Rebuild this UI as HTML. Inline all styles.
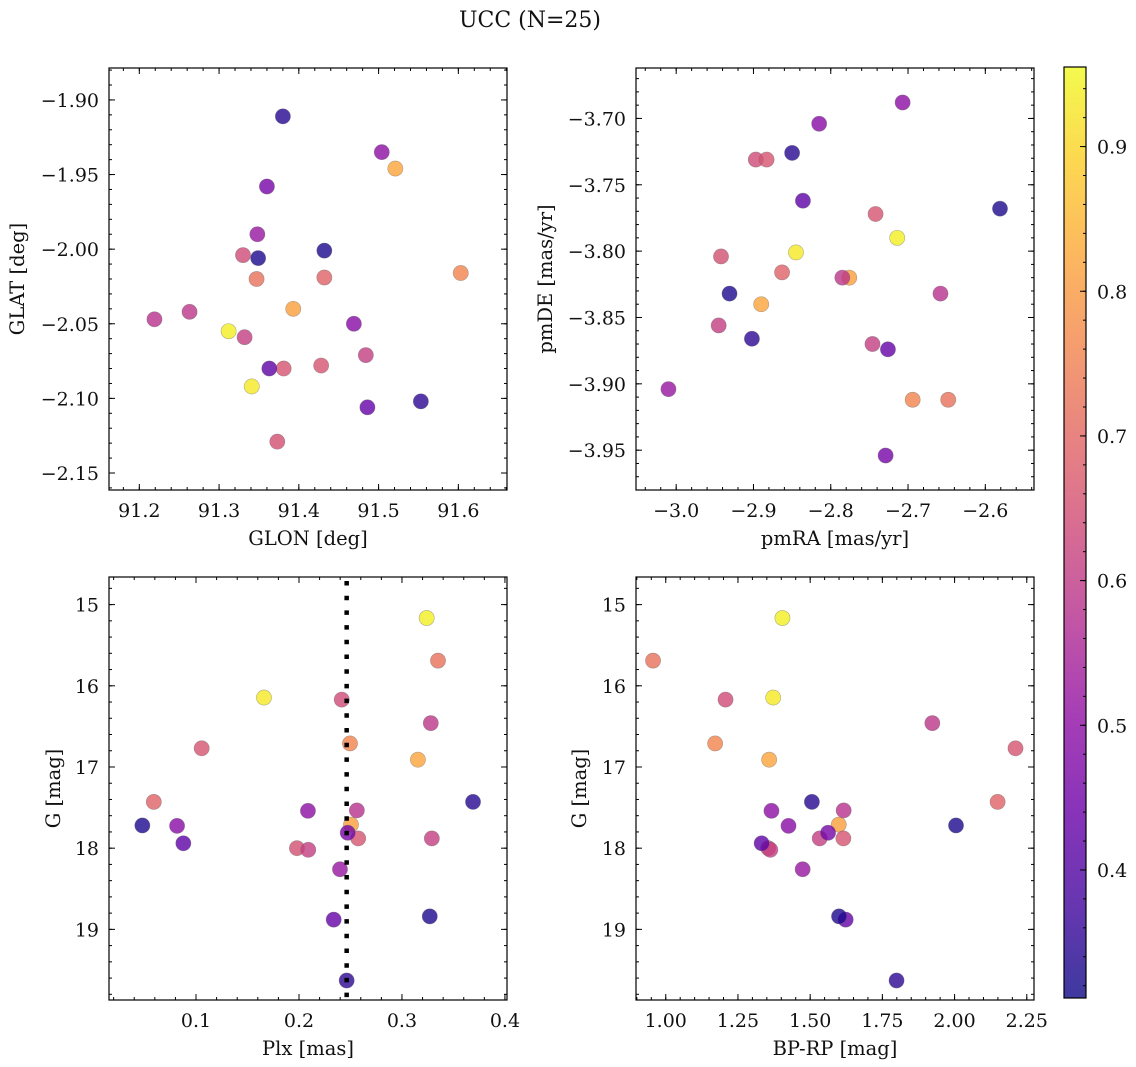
<!DOCTYPE html>
<html><head><meta charset="utf-8"><style>
html,body{margin:0;padding:0;background:#fff;}
svg{display:block;font-family:"DejaVu Serif","Liberation Serif",serif;}
</style></head><body>
<svg id="fig" width="1136" height="1067" viewBox="0 0 1136 1067" xmlns="http://www.w3.org/2000/svg">
<rect width="1136" height="1067" fill="#fff"/>
<text x="530" y="27" font-size="22" text-anchor="middle" fill="#111">UCC (N=25)</text>
</svg>
<script>
// ---- data (one entry per star) ----
const glon = [91.312,91.341,91.521,91.393,91.603,91.347,91.432,91.330,91.381,91.428,91.373,91.263,91.219,91.332,91.484,91.504,91.469,91.348,91.360,91.363,91.486,91.380,91.432,91.349,91.553];
const glat = [-2.055,-2.092,-1.946,-2.040,-2.016,-2.020,-2.019,-2.004,-2.080,-2.078,-2.129,-2.042,-2.047,-2.059,-2.071,-1.935,-2.050,-1.990,-1.958,-2.080,-2.106,-1.911,-2.001,-2.006,-2.102];
const pmra = [-2.714,-2.845,-2.890,-2.776,-2.694,-2.648,-2.863,-2.897,-2.883,-2.742,-2.942,-2.785,-2.658,-2.945,-2.746,-2.707,-2.815,-3.010,-2.729,-2.836,-2.726,-2.850,-2.581,-2.931,-2.902];
const pmde = [-3.790,-3.801,-3.840,-3.820,-3.912,-3.912,-3.816,-3.731,-3.731,-3.772,-3.804,-3.820,-3.832,-3.856,-3.870,-3.688,-3.704,-3.904,-3.954,-3.762,-3.874,-3.726,-3.768,-3.832,-3.866];
const plx  = [0.324,0.166,0.3155,0.2505,0.2495,0.335,0.059,0.2415,0.1055,0.2575,0.198,0.328,0.2562,0.329,0.209,0.2087,0.0816,0.2398,0.2473,0.0877,0.2337,0.369,0.0479,0.327,0.2463];
const gmag = [15.165,16.145,16.91,17.71,16.71,15.69,17.43,16.17,16.77,17.88,18.0,16.46,17.535,17.88,18.02,17.54,17.725,18.26,17.81,17.94,18.88,17.43,17.72,18.84,19.63];
const bprp = [1.404,1.372,1.358,1.599,1.171,0.956,2.149,1.207,2.211,1.615,1.355,1.923,1.616,1.533,1.362,1.366,1.425,1.474,1.562,1.332,1.623,1.506,2.005,1.600,1.799];
const cval = [0.94,0.93,0.82,0.81,0.76,0.72,0.69,0.64,0.66,0.66,0.65,0.59,0.58,0.61,0.61,0.50,0.49,0.52,0.46,0.42,0.43,0.34,0.33,0.33,0.35];
const plxMedian = 0.2463;
const cbTicks = [0.4,0.5,0.6,0.7,0.8,0.9];
const cMin = 0.3115, cMax = 0.955;

const NS = "http://www.w3.org/2000/svg";
const fig = document.getElementById('fig');
function mk(tag, attrs, parent){ const e=document.createElementNS(NS,tag); for(const k in attrs) e.setAttribute(k,attrs[k]); (parent||fig).appendChild(e); return e; }

const stops=[[0,13,8,135],[0.1,65,4,157],[0.2,106,0,168],[0.3,143,13,164],[0.4,177,42,144],[0.5,204,71,120],[0.6,225,100,98],[0.7,242,132,75],[0.8,252,166,54],[0.9,252,206,37],[1,240,249,33]];
function plasma(t){ t=Math.max(0,Math.min(1,t)); for(let i=1;i<stops.length;i++){ if(t<=stops[i][0]){ const a=stops[i-1],b=stops[i],f=(t-a[0])/(b[0]-a[0]); return `rgb(${Math.round(a[1]+f*(b[1]-a[1]))},${Math.round(a[2]+f*(b[2]-a[2]))},${Math.round(a[3]+f*(b[3]-a[3]))})`; } } return 'rgb(240,249,33)'; }
function cnorm(v){ return (v-cMin)/(cMax-cMin); }
function fmt(v,d){ const s=Math.abs(v).toFixed(d); return (v< -1e-9?'\u2212':'')+s; }

function panel(o){
  const g=mk('g',{});
  
  
  const sx=v=>o.x0+(v-o.xd[0])/(o.xd[1]-o.xd[0])*(o.x1-o.x0);
  const sy=v=>o.y0+(v-o.yd[0])/(o.yd[1]-o.yd[0])*(o.y1-o.y0);
  function ticks(dom,step,cb){ const lo=Math.min(dom[0],dom[1]),hi=Math.max(dom[0],dom[1]); for(let k=Math.ceil(lo/step-1e-6);k<=Math.floor(hi/step+1e-6);k++) cb(k*step,k); }
  const tg=mk('g',{stroke:'#000','stroke-width':1},g);
  
  
  ticks(o.xd,o.xminor,v=>{const x=sx(v); mk('line',{x1:x,x2:x,y1:o.y1,y2:o.y1-3},tg); mk('line',{x1:x,x2:x,y1:o.y0,y2:o.y0+3},tg);});
  ticks(o.yd,o.yminor,v=>{const y=sy(v); mk('line',{x1:o.x0,x2:o.x0+3,y1:y,y2:y},tg); mk('line',{x1:o.x1,x2:o.x1-3,y1:y,y2:y},tg);});
  ticks(o.xd,o.xmajor,v=>{const x=sx(v); mk('line',{x1:x,x2:x,y1:o.y1,y2:o.y1-6},tg); mk('line',{x1:x,x2:x,y1:o.y0,y2:o.y0+6},tg);
    const t=mk('text',{x:x,y:o.y1+27,'font-size':19,'text-anchor':'middle',fill:'#111'},g); t.textContent=fmt(v,o.xdec);
    
    });
  ticks(o.yd,o.ymajor,v=>{const y=sy(v); mk('line',{x1:o.x0,x2:o.x0+6,y1:y,y2:y},tg); mk('line',{x1:o.x1,x2:o.x1-6,y1:y,y2:y},tg);
    const t=mk('text',{x:o.x0-10,y:y+7,'font-size':19,'text-anchor':'end',fill:'#111'},g); t.textContent=fmt(v,o.ydec);
    
    });
  for(let i=0;i<o.xs.length;i++){
    const c=mk('circle',{cx:sx(o.xs[i]),cy:sy(o.ys[i]),r:7.6,fill:plasma(cnorm(cval[i])),'fill-opacity':0.8,stroke:'#666','stroke-opacity':0.5,'stroke-width':0.6},g);
    
    
  }
  if(o.vline!==undefined){ const x=sx(o.vline); const l=mk('line',{x1:x,x2:x,y1:o.y0+4,y2:o.y1,stroke:'#000','stroke-width':4.5,'stroke-dasharray':'4.5 10.2'},g);
    
     }
  const fr=mk('rect',{x:o.x0,y:o.y0,width:o.x1-o.x0,height:o.y1-o.y0,fill:'none',stroke:'#000','stroke-width':1.2},g);
  
  
  const xl=mk('text',{x:(o.x0+o.x1)/2,y:o.y1+55,'font-size':19.5,'text-anchor':'middle',fill:'#111'},g); xl.textContent=o.xlab;
  
  
  const yc=(o.y0+o.y1)/2;
  const yl=mk('text',{x:o.ylx,y:yc,'font-size':19.5,'text-anchor':'middle',fill:'#111',transform:`rotate(-90 ${o.ylx} ${yc})`},g); yl.textContent=o.ylab;
  
  
}

panel({name:'glon-glat-panel',x0:109,x1:507,y0:68,y1:490,xd:[91.162,91.661],yd:[-1.8786,-2.1614],xmajor:0.1,xminor:0.02,ymajor:0.05,yminor:0.01,xdec:1,ydec:2,xs:glon,ys:glat,xlab:'GLON [deg]',ylab:'GLAT [deg]',ylx:24});
panel({name:'pm-panel',x0:636,x1:1034,y0:68,y1:490,xd:[-3.052,-2.537],yd:[-3.662,-3.980],xmajor:0.1,xminor:0.02,ymajor:0.05,yminor:0.01,xdec:1,ydec:2,xs:pmra,ys:pmde,xlab:'pmRA [mas/yr]',ylab:'pmDE [mas/yr]',ylx:552});
panel({name:'plx-g-panel',x0:109,x1:507,y0:577,y1:1000,xd:[0.0155,0.402],yd:[14.66,19.87],xmajor:0.1,xminor:0.02,ymajor:1,yminor:0.2,xdec:1,ydec:0,xs:plx,ys:gmag,xlab:'Plx [mas]',ylab:'G [mag]',ylx:60,vline:plxMedian});
panel({name:'cmd-panel',x0:636,x1:1034,y0:577,y1:1000,xd:[0.897,2.275],yd:[14.66,19.87],xmajor:0.25,xminor:0.05,ymajor:1,yminor:0.2,xdec:2,ydec:0,xs:bprp,ys:gmag,xlab:'BP-RP [mag]',ylab:'G [mag]',ylx:586});

(function(){
  const x0=1064,x1=1086,y0=67,y1=998;
  const g=mk('g',{});
  
  
  const defs=mk('defs',{},g);
  const lg=mk('linearGradient',{id:'cbg',x1:0,y1:1,x2:0,y2:0},defs);
  for(let i=0;i<=20;i++){ mk('stop',{offset:i/20,'stop-color':plasma(i/20),'stop-opacity':0.8},lg); }
  mk('rect',{x:x0,y:y0,width:x1-x0,height:y1-y0,fill:'url(#cbg)'},g);
  const sy=v=>y1-(v-cMin)/(cMax-cMin)*(y1-y0);
  for(let k=Math.ceil(cMin/0.02);k<=Math.floor(cMax/0.02);k++){ const y=sy(k*0.02); mk('line',{x1:x1,x2:x1-3,y1:y,y2:y,stroke:'#000','stroke-width':1},g); }
  cbTicks.forEach(v=>{ const y=sy(v); mk('line',{x1:x1,x2:x1-6,y1:y,y2:y,stroke:'#000','stroke-width':1},g);
    const t=mk('text',{x:x1+11,y:y+7,'font-size':19,fill:'#111'},g); t.textContent=v.toFixed(1);
    
     });
  mk('rect',{x:x0,y:y0,width:x1-x0,height:y1-y0,fill:'none',stroke:'#000','stroke-width':1.2},g);
})();
</script>
</body></html>
